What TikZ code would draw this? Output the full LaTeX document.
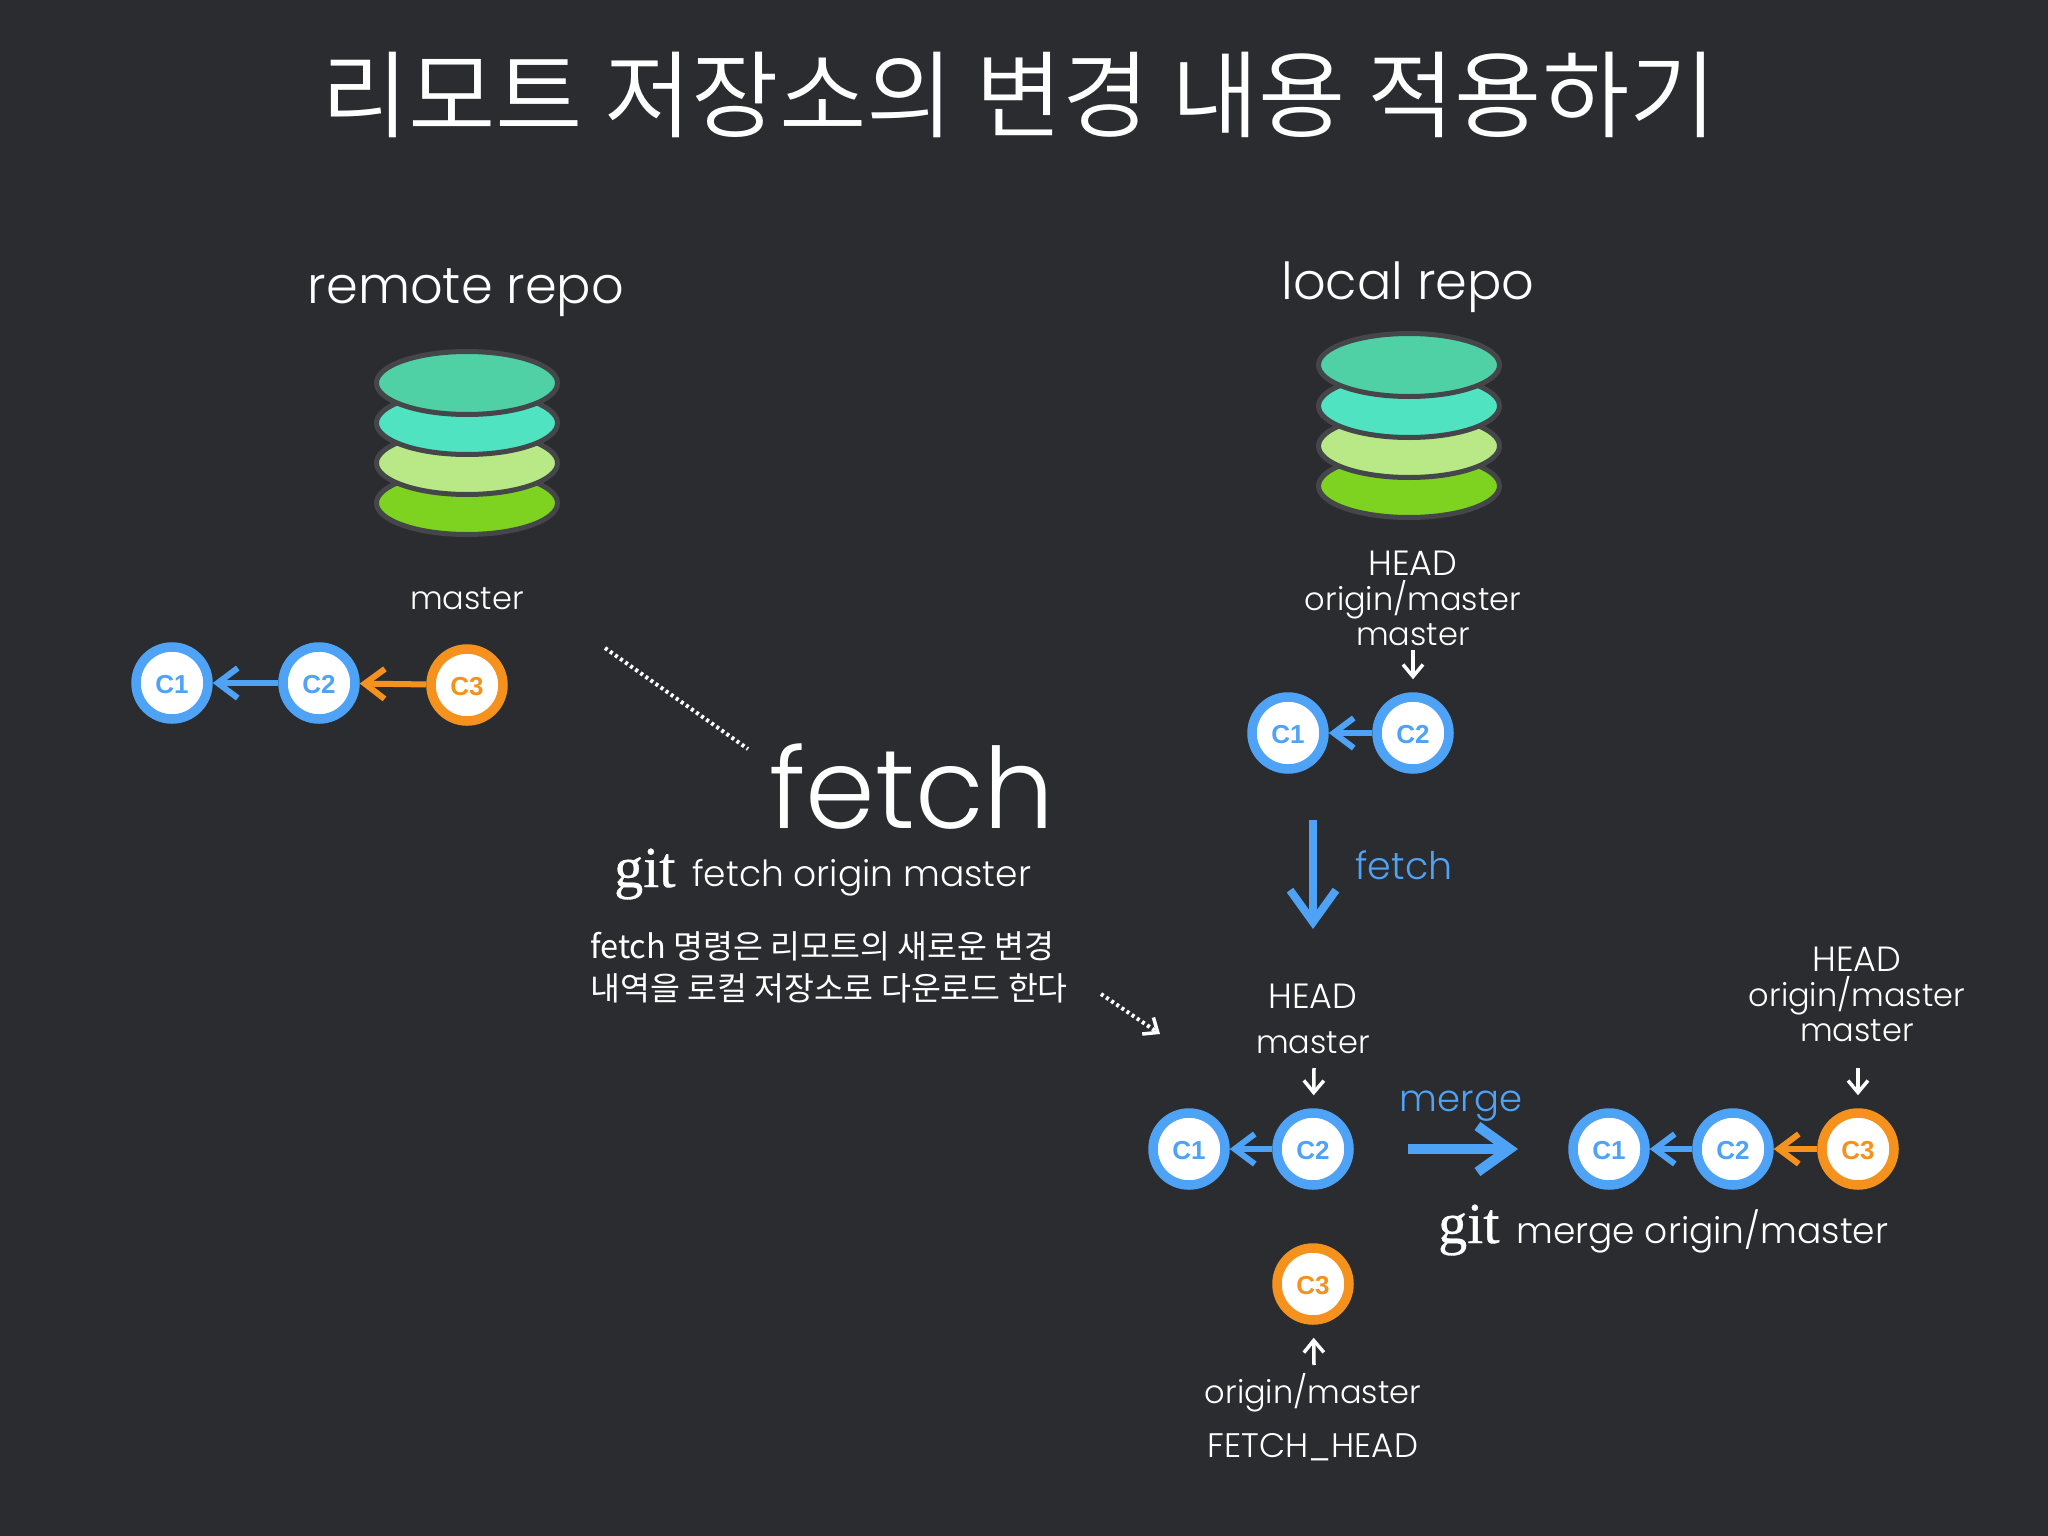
\documentclass[tikz,border=0pt]{standalone}
\usepackage{fontspec}
\usetikzlibrary{arrows.meta,shapes.geometric}
\setmainfont{Poppins Light}
\newfontfamily\krfont{Noto Sans CJK KR DemiLight}
\newfontfamily\krbody{Noto Sans CJK KR}
\newfontfamily\gitfont[FakeBold=0.6]{Liberation Serif}
\newfontfamily\cfont{Liberation Sans}
\definecolor{bg}{HTML}{2A2C30}
\definecolor{cblue}{HTML}{4FA3F7}
\definecolor{corange}{HTML}{F5921E}
\definecolor{ringgray}{HTML}{45464A}
\definecolor{layerA}{HTML}{4FD1A5}
\definecolor{layerB}{HTML}{50E3C2}
\definecolor{layerC}{HTML}{B8E986}
\definecolor{layerD}{HTML}{7ED321}
\newcommand{\fs}[1]{\fontsize{#1}{#1}\selectfont}
\newcommand{\headword}{{\fs{35}HEAD}}
\tikzset{
  commit/.style={circle,draw=#1,fill=white,line width=9.5pt,minimum size=72pt,inner sep=0pt,text=#1,text height=21pt,text depth=0pt,font=\cfont\bfseries\fs{26}},
  commitarrow/.style={draw=#1,line width=6pt,-{Straight Barb[length=20pt,width=30pt,line width=6pt]}},
  whitearrow/.style={draw=white,line width=3.5pt,-{Straight Barb[length=12pt,width=20pt,line width=3.5pt]}},
  bigarrow/.style={draw=cblue,line width=#1,-{Straight Barb[length=32pt,width=46pt,line width=#1]}},
  dots/.style={draw=white,line width=4pt,dash pattern=on 3pt off 3.2pt},
  dotarrow/.style={dots,-{Straight Barb[length=12pt,width=20pt,line width=3.5pt]}},
  lbl/.style={text=white,inner sep=0pt,font=\fs{32},align=center},
  bluelbl/.style={text=cblue,inner sep=0pt,font=\fs{38}},
  gitword/.style={text=white,inner sep=0pt,anchor=base west,font=\gitfont\fs{58}},
  cmdword/.style={text=white,inner sep=0pt,anchor=base west,font=\fs{36}},
  layer/.style={ellipse,draw=ringgray,line width=5pt,fill=#1,minimum width=181pt,minimum height=63pt,inner sep=0pt},
  krtext/.style={text=white,inner sep=0pt,anchor=base west,font=\krbody\fs{32.5}},
}
\begin{document}
\begin{tikzpicture}[x=1pt,y=-1pt]
\useasboundingbox (0,0) rectangle (2048,1536);
\fill[bg] (0,0) rectangle (2048,1536);

\node[text=white,inner sep=0pt,font=\krfont\fs{95}] (title) at (1019,95) {리모트 저장소의 변경 내용 적용하기};

\node[lbl,font=\fs{51}] (remote) at (466,293) {remote repo};
\node[lbl,font=\fs{51}] (local) at (1408,287) {local repo};

% remote stack
\node[layer=layerD] (ra4) at (467,503) {};
\node[layer=layerC] (ra3) at (467,463) {};
\node[layer=layerB] (ra2) at (467,423) {};
\node[layer=layerA] (ra1) at (467,383) {};
% local stack
\node[layer=layerD] (la4) at (1409,486) {};
\node[layer=layerC] (la3) at (1409,446) {};
\node[layer=layerB] (la2) at (1409,406) {};
\node[layer=layerA] (la1) at (1409,365) {};

% remote commits
\node[lbl] (rmaster) at (467,599) {master};
\node[commit=cblue] (rc1) at (172,683) {C1};
\node[commit=cblue] (rc2) at (319,683) {C2};
\node[commit=corange] (rc3) at (467,685) {C3};
\draw[commitarrow=cblue] (rc2) -- (rc1);
\draw[commitarrow=corange] (rc3) -- (rc2);

% local commits
\node[lbl] (lhead) at (1413,598) {\headword\\[3pt]origin/master\\[3pt]master};
\node[commit=cblue] (lc1) at (1288,733) {C1};
\node[commit=cblue] (lc2) at (1413,733) {C2};
\draw[commitarrow=cblue] (lc2) -- (lc1);
\coordinate (la) at (1413,650);
\draw[whitearrow,shorten >=13pt] (la) -- (lc2);

% fetch step
\coordinate (fa) at (1313,820);
\coordinate (fb) at (1313,929);
\draw[bigarrow=8pt] (fa) -- (fb);
\node[bluelbl] (fetchl) at (1404,865) {fetch};

% middle text
\node[text=white,inner sep=0pt,anchor=base,font=\fs{112}] (bigfetch) at (912,828) {fetch};
\node[gitword] (git1) at (614,887) {git};
\node[cmdword] (cmd1) at (692,886) {fetch origin master};
\node[krtext] (kr1) at (590,958) {fetch 명령은 리모트의 새로운 변경};
\node[krtext] (kr2) at (590,1000) {내역을 로컬 저장소로 다운로드 한다};

\coordinate (d1a) at (605,648);
\coordinate (d1b) at (748,749);
\draw[dots] (d1a) -- (d1b);
\coordinate (d2a) at (1101,994);
\coordinate (d2b) at (1160,1034);
\draw[dotarrow] (d2a) -- (d2b);

% after fetch
\node[lbl] (mhead) at (1313,996) {\headword};
\node[lbl] (mmaster) at (1313,1043) {master};
\node[commit=cblue] (mc1) at (1189,1149) {C1};
\node[commit=cblue] (mc2) at (1313,1149) {C2};
\node[commit=corange] (mc3) at (1313,1284) {C3};
\draw[commitarrow=cblue] (mc2) -- (mc1);
\coordinate (ma) at (1314,1068);
\draw[whitearrow,shorten >=13pt] (ma) -- (mc2);
\coordinate (mb) at (1314,1365);
\draw[whitearrow,shorten >=13pt] (mb) -- (mc3);
\node[lbl] (morigin) at (1313,1393) {origin/master};
\node[lbl,font=\fs{34}] (mfh) at (1313,1447) {FETCH\_HEAD};

% merge step
\node[bluelbl,font=\fs{37}] (mergel) at (1461,1106) {merge};
\coordinate (ga) at (1408,1149);
\coordinate (gb) at (1518,1149);
\draw[bigarrow=10pt] (ga) -- (gb);

% after merge
\node[lbl] (xhead) at (1857,994) {\headword\\[3pt]origin/master\\[3pt]master};
\node[commit=cblue] (xc1) at (1609,1149) {C1};
\node[commit=cblue] (xc2) at (1733,1149) {C2};
\node[commit=corange] (xc3) at (1858,1149) {C3};
\draw[commitarrow=cblue] (xc2) -- (xc1);
\draw[commitarrow=corange] (xc3) -- (xc2);
\coordinate (xa) at (1858,1068);
\draw[whitearrow,shorten >=13pt] (xa) -- (xc3);
\node[gitword] (git2) at (1438,1243) {git};
\node[cmdword] (cmd2) at (1516,1243) {merge origin/master};
\end{tikzpicture}
\end{document}
